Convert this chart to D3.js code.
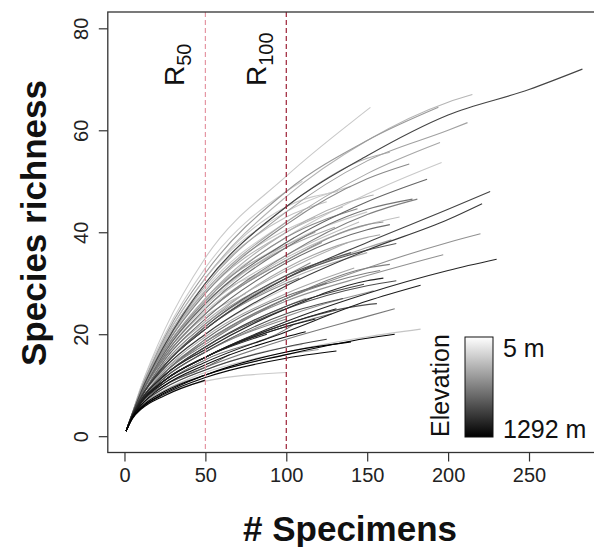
<!DOCTYPE html>
<html>
<head>
<meta charset="utf-8">
<script src="https://cdn.jsdelivr.net/npm/d3@7"></script>
<style>
  body { margin: 0; background: #fff; }
  svg { display: block; font-family: "Liberation Sans", Arial, sans-serif; }
</style>
</head>
<body>
<div id="chart"></div>
<script>
const sampleN = [1, 5, 10, 25, 50, 100, 150, 200, 250];

// richness read at sampleN (only the samples below each site's total)
const richnessAt = [
  [1, 4.5, 8.5, 18, 30, 45, 55, 63, 68],
  [1, 4.7, 9.5, 21, 35, 51, 64],
  [1, 4.6, 9, 19, 31, 47, 58, 65.5],
  [1, 4.6, 9, 19.5, 32, 48, 58],
  [1, 4.6, 9, 18, 29.5, 44, 54, 60],
  [1, 4.5, 8.5, 18, 28.5, 42, 51.5],
  [1, 4.5, 8.5, 17, 27, 39, 47.5],
  [1, 4.4, 8, 16.5, 26, 38, 46],
  [1, 4.3, 7.5, 14, 21, 31, 38, 44.5],
  [1, 4.3, 7.5, 13.5, 20, 29.5, 36.5, 42.5],
  [1, 4.2, 7, 12.5, 18.5, 27, 33, 38],
  [1, 4.1, 6.8, 11, 15.5, 22.5, 28, 32.5],
  [1, 4, 6.5, 10.5, 14.5, 20.5, 26.5],
  [1, 4, 6.3, 10, 13.5, 19, 23.5],
  [1, 3.8, 5.8, 9, 12.5, 16.5, 19.5],
  [1, 3.7, 5.6, 8.8, 12, 16, 19.2],
  [1, 3.5, 5.2, 8],
  [1, 4.5, 8.5, 17.5, 28, 41.5, 50.5],
  [1, 4.4, 8, 15.5, 24, 35.5, 43.5],
  [1, 4.3, 7.5, 14, 21.5, 31, 37],
  [1, 4.2, 7, 12.5, 18.5, 26.5, 31.5],
  [1, 4.6, 9, 18.5, 30, 45, 54.5],
  [1, 4.4, 8, 16, 25, 37, 44.5],
  [1, 4.4, 8, 15.5, 24, 35, 41.5],
  [1, 4.3, 7.5, 15, 23, 34, 40.5],
  [1, 4.3, 7.5, 14.5, 22, 33, 39],
  [1, 4.3, 7.5, 14, 21, 31, 36.5],
  [1, 4.3, 7.5, 14, 21, 30.5],
  [1, 4.2, 7, 12.5, 18.5, 27, 32],
  [1, 4.2, 7, 12, 17.5, 25, 29.5],
  [1, 4.2, 7, 11.5, 16.5, 23.5, 28.2],
  [1, 4, 6.5, 11, 15.5, 22],
  [1, 4.5, 8.5, 17, 27, 40, 47],
  [1, 4.5, 8.5, 17, 26.5, 39],
  [1, 4.2, 7, 12, 17.5, 25.5],
  [1, 4, 6.5, 11, 15.5, 22, 25.8],
  [1, 4.2, 7, 12.5, 18, 27, 33],
  [1, 3.6, 5.4, 8.3, 11.5, 15.3],
  [1, 3.8, 5.8, 9, 12, 16],
  [1, 3.9, 6, 9.5, 13, 17.5],
  [1, 4.6, 9, 19, 31, 44],
  [1, 4.6, 9, 18.5, 30, 43],
  [1, 4.6, 9, 18, 29, 42],
  [1, 4.5, 8.5, 17.5, 28, 40],
  [1, 4.5, 8.5, 17.5, 28.5, 40.5],
  [1, 4.4, 8, 16.5, 26, 37],
  [1, 4.5, 8.5, 17, 27, 38],
  [1, 4.4, 8, 16, 25, 35.5],
  [1, 4.4, 8, 15.5, 24, 34.5],
  [1, 4.5, 8.5, 16.5, 26],
  [1, 4.3, 7.5, 15, 22.5, 32.5],
  [1, 4.3, 7.5, 14.5, 22, 31.5],
  [1, 4.3, 7.5, 14, 21.5, 31],
  [1, 4.3, 7.5, 14, 21, 30],
  [1, 4.2, 7, 13, 19.5, 28],
  [1, 4.3, 7.5, 13.5, 20],
  [1, 4.2, 7, 12.5, 19, 27.5],
  [1, 4.2, 7, 12, 17.5, 25.5],
  [1, 4, 6.5, 11.5, 16.5, 24],
  [1, 4.2, 7, 12, 17],
  [1, 4, 6.5, 11, 15.5, 21.5],
  [1, 4, 6.5, 10.5, 15, 21],
  [1, 3.9, 6, 10, 14, 19.5],
  [1, 3.9, 6, 9.5, 13, 17.5],
  [1, 3.6, 5.4, 8.5, 12, 16.5],
  [1, 4.5, 8.5, 16, 24.5],
  [1, 4.5, 8.5, 17, 26],
  [1, 4.4, 8, 15.5, 23.5],
  [1, 4.3, 7.5, 13, 18.5],
  [1, 4, 6.5, 11, 15.5],
  [1, 4, 6.5, 10, 13.5],
  [1, 4.4, 8, 16.5, 25.5, 37.5],
  [1, 4.4, 8, 15.5, 24, 34.5, 41.5],
  [1, 4.3, 7.5, 14, 21.5, 31.5],
  [1, 4.6, 9, 19, 31, 45],
  [1, 4.5, 8.5, 17, 27, 37.5],
  [1, 4, 6.5, 11, 15.5, 21.5],
  [1, 4.2, 7, 11.5, 16.5],
  [1, 4.7, 9.5, 20, 33, 48],
  [1, 4.2, 7, 12, 17, 25, 30.5],
  [1, 3.5, 5.3, 8.2, 10.8]
];

// total specimens and final richness of each site (end of curve)
const siteSpecimens = [283, 152, 215, 194, 212, 195, 196, 187, 226, 221, 220, 230, 183, 167, 183, 167, 50,
  176, 181, 165, 197, 164, 178, 170, 164, 158, 168, 150, 158, 168, 154, 131, 154, 144, 148, 156, 164, 131,
  120, 110, 140, 125, 110, 135, 118, 130, 105, 145, 122, 95, 138, 115, 128, 108, 142, 100, 125, 112, 135,
  98, 118, 105, 112, 125, 140, 90, 85, 75, 70, 88, 65, 150, 160, 140, 132, 118, 128, 100, 110, 160, 100];
const siteRichness = [72, 64.5, 67, 64.5, 61.5, 57.6, 53.7, 50.4, 48, 45.6, 39.7, 34.7, 29.6, 25, 21, 20, 11,
  53.4, 46.5, 38.5, 35.6, 55.7, 46.5, 43, 41.5, 39.5, 37.8, 36, 32.5, 30.5, 28.5, 25, 47.3, 44.6, 29.8, 26, 33.7, 16.7,
  17, 18, 49, 46, 44, 45, 43, 41, 39, 42, 38, 36, 38, 34, 35, 31, 33, 29, 30, 27, 27,
  25, 23, 22, 20.5, 19, 18.5, 33, 32, 28, 22, 20, 16, 44, 42, 36, 48, 40, 24, 23, 50, 31, 12.5];

// site elevation (m)
const siteElevation = [950, 280, 380, 520, 480, 450, 280, 780, 950, 1000, 560, 1100, 1150, 680, 300, 1292, 1250,
  600, 650, 480, 560, 400, 700, 330, 750, 450, 850, 420, 650, 900, 550, 1100, 400, 600, 950, 900, 650, 1250,
  500, 280, 260, 320, 250, 380, 280, 460, 280, 340, 520, 260, 400, 580, 300, 620, 450, 260, 750, 520, 900,
  380, 1150, 700, 1250, 950, 1292, 270, 280, 340, 500, 1100, 850, 280, 560, 850, 270, 420, 750, 600, 250, 1100, 280];

const xTicks = [0, 50, 100, 150, 200, 250];
const yTicks = [0, 20, 40, 60, 80];
const rLines = [50, 100];
const elevRange = [5, 1292];

const width = 594, height = 547;

const svg = d3.select("#chart").append("svg")
  .attr("width", width)
  .attr("height", height);

// R style usr region: data extended by 4%
const x = d3.scaleLinear().domain([-10.3, 294.3]).range([107.8, 600.7]);
const y = d3.scaleLinear().domain([-3.2, 83.2]).range([452.5, 12]);

const grey = d3.scaleLinear().domain(elevRange).range(["#ffffff", "#000000"]);

svg.append("clipPath").attr("id", "plotclip")
  .append("rect")
  .attr("x", x(-10.3)).attr("y", y(83.2))
  .attr("width", x(294.3) - x(-10.3)).attr("height", y(-3.2) - y(83.2));

// build curve point lists
const curves = richnessAt.map((row, i) => {
  const pts = row.map((s, j) => [sampleN[j], s]);
  pts.push([siteSpecimens[i], siteRichness[i]]);
  return { pts: pts, elev: siteElevation[i] };
}).sort((a, b) => a.elev - b.elev);

const line = d3.line()
  .x(d => x(d[0]))
  .y(d => y(d[1]))
  .curve(d3.curveMonotoneX);

const plot = svg.append("g").attr("clip-path", "url(#plotclip)");

plot.selectAll("path.curve")
  .data(curves)
  .join("path")
  .attr("class", "curve")
  .attr("d", d => line(d.pts))
  .attr("fill", "none")
  .attr("stroke", d => grey(d.elev))
  .attr("stroke-width", 1.1);

// reference lines R50 / R100
const rColors = ["#e597a4", "#9c1f35"];
plot.selectAll("line.rline")
  .data(rLines)
  .join("line")
  .attr("class", "rline")
  .attr("x1", d => x(d)).attr("x2", d => x(d))
  .attr("y1", y(83.2)).attr("y2", y(-3.2))
  .attr("stroke", (d, i) => rColors[i])
  .attr("stroke-width", 1.2)
  .attr("stroke-dasharray", "5,3");

// R labels
const rLabelX = [184, 266];
rLines.forEach((r, i) => {
  const t = svg.append("text")
    .attr("transform", `translate(${rLabelX[i]},86) rotate(-90)`)
    .attr("font-size", 28)
    .attr("fill", "#111");
  t.append("tspan").text("R");
  t.append("tspan").attr("font-size", 20).attr("dy", 7).text(r);
});

// plot box (right edge runs off the picture)
svg.append("rect")
  .attr("x", x(-10.3)).attr("y", y(83.2))
  .attr("width", x(294.3) - x(-10.3)).attr("height", y(-3.2) - y(83.2))
  .attr("fill", "none")
  .attr("stroke", "#333")
  .attr("stroke-width", 1.3);

// axes
const xAxis = svg.append("g")
  .attr("transform", `translate(0,${y(-3.2)})`)
  .call(d3.axisBottom(x).tickValues(xTicks).tickSize(9).tickPadding(6));
const yAxis = svg.append("g")
  .attr("transform", `translate(${x(-10.3)},0)`)
  .call(d3.axisLeft(y).tickValues(yTicks).tickSize(9).tickPadding(4));

[xAxis, yAxis].forEach(a => {
  a.select(".domain").remove();
  a.selectAll("line").attr("stroke", "#333").attr("stroke-width", 1.2);
  a.selectAll("text")
    .attr("font-size", 20)
    .attr("fill", "#222")
    .attr("font-family", "Liberation Sans, Arial, sans-serif");
});
yAxis.selectAll(".tick text")
  .attr("text-anchor", "middle")
  .attr("x", null).attr("dy", null)
  .attr("transform", "translate(-20,0) rotate(-90)")
  .attr("y", 0);

// axis titles
svg.append("text")
  .attr("x", 350).attr("y", 541)
  .attr("text-anchor", "middle")
  .attr("font-size", 35)
  .attr("font-weight", "bold")
  .attr("fill", "#111")
  .text("# Specimens");

svg.append("text")
  .attr("transform", "translate(46,223) rotate(-90)")
  .attr("text-anchor", "middle")
  .attr("font-size", 35)
  .attr("font-weight", "bold")
  .attr("fill", "#111")
  .text("Species richness");

// elevation legend
const defs = svg.append("defs");
const grad = defs.append("linearGradient")
  .attr("id", "elevgrad")
  .attr("x1", 0).attr("y1", 0).attr("x2", 0).attr("y2", 1);
grad.selectAll("stop")
  .data(elevRange)
  .join("stop")
  .attr("offset", (d, i) => i)
  .attr("stop-color", d => grey(d));

svg.append("rect")
  .attr("x", 465).attr("y", 337)
  .attr("width", 28).attr("height", 100)
  .attr("fill", "url(#elevgrad)")
  .attr("stroke", "#111")
  .attr("stroke-width", 1);

svg.append("text")
  .attr("x", 503).attr("y", 357)
  .attr("font-size", 25).attr("fill", "#111")
  .text(elevRange[0] + " m");
svg.append("text")
  .attr("x", 503).attr("y", 438)
  .attr("font-size", 25).attr("fill", "#111")
  .text(elevRange[1] + " m");
svg.append("text")
  .attr("transform", "translate(449,437) rotate(-90)")
  .attr("font-size", 25).attr("fill", "#111")
  .text("Elevation");
</script>
</body>
</html>
